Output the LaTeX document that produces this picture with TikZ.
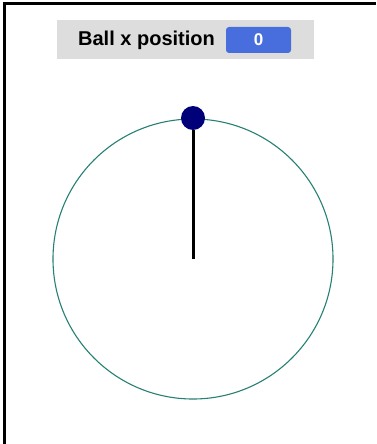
\documentclass[tikz,border=0pt]{standalone}
\usepackage{fontspec}
\setmainfont{Liberation Sans}
\usetikzlibrary{positioning}

\definecolor{panelgray}{RGB}{221,221,221}
\definecolor{valueblue}{RGB}{72,110,222}
\definecolor{orbitteal}{RGB}{38,128,115}
\definecolor{ballnavy}{RGB}{0,0,120}

\begin{document}
\begin{tikzpicture}[
  x=1pt, y=-1pt,
  panel/.style={fill=panelgray, minimum width=257pt, minimum height=39pt, inner sep=0pt},
  lbl/.style={font=\fontsize{20}{22}\selectfont\bfseries, inner sep=0pt},
  valbox/.style={fill=valueblue, rounded corners=3pt, minimum width=65pt,
                 minimum height=26pt, inner sep=0pt, text=white,
                 font=\fontsize{17}{20}\selectfont\bfseries},
  orbit/.style={draw=orbitteal, line width=1.1pt},
  rod/.style={line width=3pt, black},
  ballst/.style={circle, fill=ballnavy, minimum size=24pt, inner sep=0pt},
]
  \useasboundingbox (0,0) rectangle (376,444);

  %% frame edges
  \draw[line width=3pt] (4,444) -- (4,4) -- (376,4);

  %% top panel
  \node[panel] (bar) at (185.5,39.5) {};
  \node[lbl] (label) at (146.5,40) {Ball x position};
  \node[valbox] (value) at (258.5,40) {0};

  %% orbit and pendulum
  \coordinate (pivot) at (193,259);
  \draw[orbit] (pivot) circle[radius=140];
  \node[ballst] (ball) at (193,118) {};
  \draw[rod] (pivot) -- (ball.south);
\end{tikzpicture}
\end{document}
